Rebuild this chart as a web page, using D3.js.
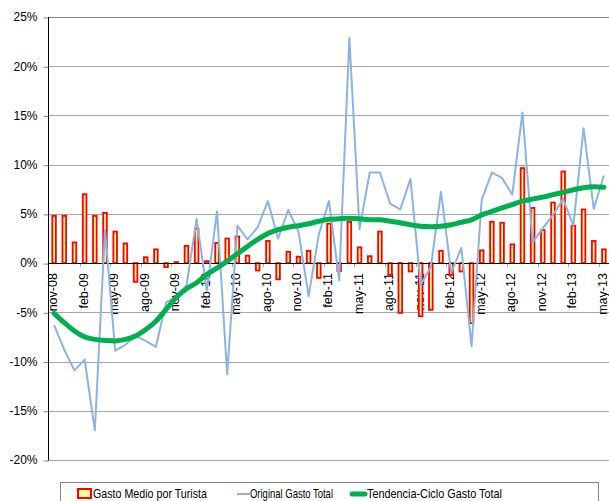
<!DOCTYPE html>
<html>
<head>
<meta charset="utf-8">
<script src="https://cdn.jsdelivr.net/npm/d3@7"></script>
<style>
  html, body { margin: 0; padding: 0; background: #fff; }
  svg { display: block; }
</style>
</head>
<body>
<svg id="chart"></svg>
<script>
// Months nov-08 .. may-13
const months = [
    'nov-08','dic-08','ene-09','feb-09','mar-09','abr-09','may-09','jun-09','jul-09','ago-09','sep-09','oct-09',
    'nov-09','dic-09','ene-10','feb-10','mar-10','abr-10','may-10','jun-10','jul-10','ago-10','sep-10','oct-10',
    'nov-10','dic-10','ene-11','feb-11','mar-11','abr-11','may-11','jun-11','jul-11','ago-11','sep-11','oct-11',
    'nov-11','dic-11','ene-12','feb-12','mar-12','abr-12','may-12','jun-12','jul-12','ago-12','sep-12','oct-12',
    'nov-12','dic-12','ene-13','feb-13','mar-13','abr-13','may-13'
];

// Gasto Medio por Turista (bars, %)
const gastoMedio = [
    4.8, 4.8, 2.1, 7.0, 4.8, 5.1, 3.2, 2.0, -1.9, 0.6, 1.4, -0.4,
    0.1, 1.75, 3.5, 0.2, 2.05, 2.5, 2.7, 0.75, -0.75, 2.25, -1.65, 1.15,
    0.65, 1.25, -1.5, 4.0, -0.8, 4.2, 1.6, 0.7, 3.2, -1.2, -5.05, -0.85,
    -5.4, -4.75, 1.25, -1.2, -0.85, -6.1, 1.3, 4.2, 4.1, 1.9, 9.65, 5.6,
    3.35, 6.15, 9.3, 3.8, 5.45, 2.25, 1.4
];

// Original Gasto Total (%)
const original = [
    -6.3, -8.8, -10.9, -9.8, -17.0, 3.4, -8.9, -8.3, -7.4, -7.9, -8.5, -4.0,
    -3.4, -2.3, 4.5, -2.8, 5.25, -11.3, 3.8, 2.4, 3.65, 6.3, 2.5, 5.4,
    3.2, -3.35, 2.9, 6.3, -1.75, 22.9, 3.45, 9.2, 9.2, 6.05, 5.45, 8.55,
    -2.2, -0.4, 7.25, -1.0, 1.55, -8.45, 6.45, 9.2, 8.65, 6.95, 15.3, 2.1,
    3.55, 4.9, 6.5, 3.8, 13.7, 5.5, 8.9
];

// Tendencia-Ciclo Gasto Total (%)
const tendencia = [
    -5.1, -6.05, -6.9, -7.5, -7.75, -7.85, -7.9, -7.75, -7.4, -6.75, -5.9, -4.7,
    -3.5, -2.6, -2.0, -1.15, -0.5, 0.2, 0.95, 1.7, 2.4, 3.0, 3.4, 3.65,
    3.8, 4.0, 4.25, 4.45, 4.5, 4.55, 4.5, 4.4, 4.4, 4.25, 4.1, 3.9,
    3.75, 3.7, 3.75, 3.9, 4.15, 4.4, 4.9, 5.25, 5.6, 5.95, 6.3, 6.5,
    6.7, 6.95, 7.2, 7.45, 7.65, 7.75, 7.7
];

const yTicks = [-20, -15, -10, -5, 0, 5, 10, 15, 20, 25];
const legendLabels = ['Gasto Medio por Turista', 'Original Gasto Total', 'Tendencia-Ciclo Gasto Total'];

const width = 609, height = 501;
const plot = { left: 49, right: 609, top: 17, bottom: 460 };

const svg = d3.select('#chart')
    .attr('width', width)
    .attr('height', height)
    .attr('viewBox', `0 0 ${width} ${height}`);

svg.append('rect').attr('width', width).attr('height', height).attr('fill', '#fff');

const x = d3.scaleBand().domain(months).range([plot.left, plot.right]).padding(0);
const y = d3.scaleLinear().domain([-20, 25]).range([plot.bottom, plot.top]);
const cx = m => x(m) + x.bandwidth() / 2;
const snap = v => Math.round(v) + 0.5;

// Gridlines
svg.append('g')
    .selectAll('line')
    .data(yTicks)
    .enter()
    .append('line')
    .attr('x1', plot.left)
    .attr('x2', plot.right)
    .attr('y1', d => snap(y(d)))
    .attr('y2', d => snap(y(d)))
    .attr('stroke', d => d === 25 ? '#868686' : '#a6a6a6')
    .attr('stroke-width', 1);

// Y axis
const yAxis = d3.axisLeft(y)
    .tickValues(yTicks)
    .tickSize(5)
    .tickPadding(6)
    .tickFormat(d => d + '%');

const gy = svg.append('g')
    .attr('transform', `translate(${snap(plot.left) - 1},0)`)
    .call(yAxis);
gy.select('.domain').remove();
gy.selectAll('.tick line').attr('stroke', '#868686').attr('transform', 'translate(0,0.5)');
gy.selectAll('.tick text')
    .attr('font-family', '"Liberation Sans", Arial, sans-serif')
    .attr('font-size', 12)
    .attr('fill', '#000');
svg.append('line')
    .attr('x1', snap(plot.left) - 1).attr('x2', snap(plot.left) - 1)
    .attr('y1', y(25)).attr('y2', y(-20) + 0.5)
    .attr('stroke', '#000');

// X category labels every 3 months, rotated, sitting below the zero line
const labelled = months.filter((m, i) => i % 3 === 0);
svg.append('g')
    .selectAll('text')
    .data(labelled)
    .enter()
    .append('text')
    .attr('transform', d => `translate(${cx(d) - 1},${y(0) + 10}) rotate(-90)`)
    .attr('text-anchor', 'end')
    .attr('dominant-baseline', 'central')
    .attr('font-family', '"Liberation Sans", Arial, sans-serif')
    .attr('font-size', 12.5)
    .attr('fill', '#000')
    .text(d => d);

// Small ticks at every third category boundary
svg.append('g')
    .selectAll('line')
    .data(months.filter((m, i) => i % 3 === 0 && i > 0))
    .enter()
    .append('line')
    .attr('x1', d => snap(x(d)))
    .attr('x2', d => snap(x(d)))
    .attr('y1', y(0))
    .attr('y2', y(0) + 4)
    .attr('stroke', '#a6a6a6');

// Bars
const barW = 3.6;
svg.append('g')
    .selectAll('rect')
    .data(gastoMedio)
    .enter()
    .append('rect')
    .attr('x', (d, i) => cx(months[i]) - barW / 2)
    .attr('y', d => y(Math.max(0, d)))
    .attr('width', barW)
    .attr('height', d => Math.abs(y(d) - y(0)))
    .attr('fill', '#ffff99')
    .attr('stroke', '#ff0000')
    .attr('stroke-width', 1.8);

// Zero line
svg.append('line')
    .attr('x1', plot.left).attr('x2', plot.right)
    .attr('y1', snap(y(0))).attr('y2', snap(y(0)))
    .attr('stroke', '#000');

// Original series
const lineOrig = d3.line()
    .x((d, i) => cx(months[i]))
    .y(d => y(d));
svg.append('path')
    .datum(original)
    .attr('d', lineOrig)
    .attr('fill', 'none')
    .attr('stroke', '#8db3e2')
    .attr('stroke-width', 2)
    .attr('stroke-linejoin', 'round');

// Trend series (smoothed)
const lineTrend = d3.line()
    .x((d, i) => cx(months[i]))
    .y(d => y(d))
    .curve(d3.curveCatmullRom.alpha(0.5));
svg.append('path')
    .datum(tendencia)
    .attr('d', lineTrend)
    .attr('fill', 'none')
    .attr('stroke', '#00b050')
    .attr('stroke-width', 5)
    .attr('stroke-linecap', 'round');

// Legend
const lg = svg.append('g');
lg.append('rect')
    .attr('x', 60.5).attr('y', 482.5)
    .attr('width', 538).attr('height', 25)
    .attr('fill', '#fff')
    .attr('stroke', '#868686');

const legendItems = [
    { label: legendLabels[0], sx: 77, tx: 93, tw: 114, kind: 'bar' },
    { label: legendLabels[1], sx: 237, tx: 250, tw: 83, kind: 'line' },
    { label: legendLabels[2], sx: 350, tx: 367, tw: 135, kind: 'trend' }
];

legendItems.forEach(item => {
    if (item.kind === 'bar') {
        lg.append('rect')
            .attr('x', item.sx + 1).attr('y', 489)
            .attr('width', 13).attr('height', 9)
            .attr('fill', '#ffff99')
            .attr('stroke', '#ff0000')
            .attr('stroke-width', 2);
    } else if (item.kind === 'line') {
        lg.append('line')
            .attr('x1', item.sx).attr('x2', item.sx + 13)
            .attr('y1', 494).attr('y2', 494)
            .attr('stroke', '#8db3e2').attr('stroke-width', 2);
    } else {
        lg.append('line')
            .attr('x1', item.sx + 2).attr('x2', item.sx + 15)
            .attr('y1', 494).attr('y2', 494)
            .attr('stroke', '#00b050').attr('stroke-width', 5)
            .attr('stroke-linecap', 'round');
    }
    lg.append('text')
        .attr('x', item.tx)
        .attr('y', 497.5)
        .attr('font-family', '"Liberation Sans Narrow", "Arial Narrow", "Liberation Sans", sans-serif')
        .attr('font-size', 13)
        .attr('textLength', item.tw)
        .attr('lengthAdjust', 'spacingAndGlyphs')
        .attr('fill', '#000')
        .text(item.label);
});
</script>
</body>
</html>
